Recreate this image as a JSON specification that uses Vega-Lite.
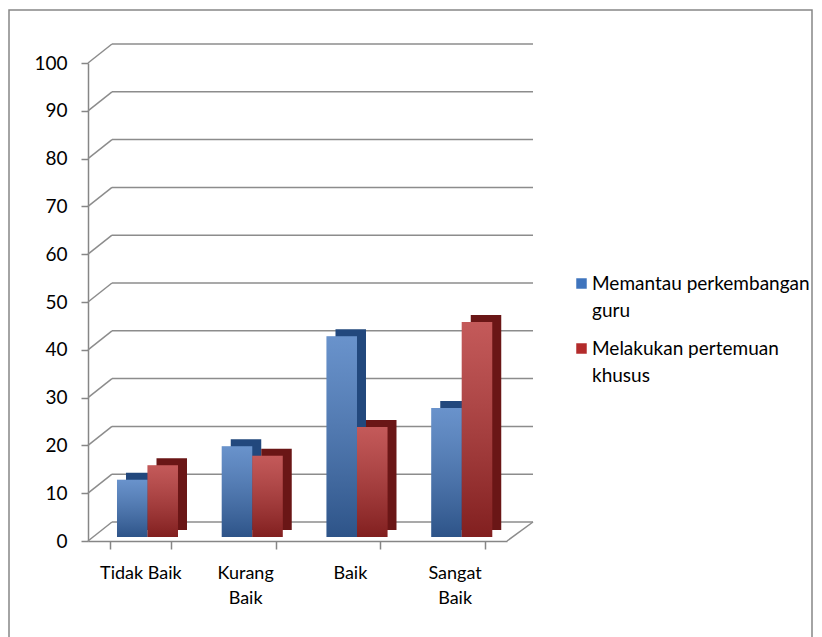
{
  "$schema": "https://vega.github.io/schema/vega-lite/v6.json",
  "width": 419,
  "height": 478,
  "autosize": {"type": "none"},
  "padding": {"left": 88, "top": 63, "right": 315, "bottom": 96},
  "background": "#ffffff",
  "config": {
    "view": {"stroke": null},
    "font": "Lato",
    "axis": {"labelFont": "Lato", "labelColor": "#000000", "domainColor": "#868686", "tickColor": "#868686", "domainWidth": 1.5, "tickWidth": 1.5}
  },
  "datasets": {
    "bars": [
      {"kategori": "Tidak Baik", "seri": "Memantau perkembangan guru", "nilai": 12},
      {"kategori": "Tidak Baik", "seri": "Melakukan pertemuan khusus", "nilai": 15},
      {"kategori": "Kurang Baik", "seri": "Memantau perkembangan guru", "nilai": 19},
      {"kategori": "Kurang Baik", "seri": "Melakukan pertemuan khusus", "nilai": 17},
      {"kategori": "Baik", "seri": "Memantau perkembangan guru", "nilai": 42},
      {"kategori": "Baik", "seri": "Melakukan pertemuan khusus", "nilai": 23},
      {"kategori": "Sangat Baik", "seri": "Memantau perkembangan guru", "nilai": 27},
      {"kategori": "Sangat Baik", "seri": "Melakukan pertemuan khusus", "nilai": 45}
    ],
    "ticks": [
      {"v": 0}, {"v": 10}, {"v": 20}, {"v": 30}, {"v": 40}, {"v": 50},
      {"v": 60}, {"v": 70}, {"v": 80}, {"v": 90}, {"v": 100}
    ]
  },
  "resolve": {"scale": {"xOffset": "independent"}},
  "layer": [
    {
      "data": {"values": [{}]},
      "mark": {"type": "rect", "fill": null, "stroke": "#868686", "strokeWidth": 1.5},
      "encoding": {
        "x": {"value": -79},
        "x2": {"value": 724},
        "y": {"value": -53},
        "y2": {"value": 620}
      }
    },
    {
      "data": {"name": "ticks"},
      "mark": {"type": "rule", "color": "#8c8c8c", "strokeWidth": 1.5, "yOffset": -19},
      "encoding": {
        "y": {"field": "v", "type": "quantitative", "scale": {"domain": [0, 100]}, "axis": {"values": [0,10,20,30,40,50,60,70,80,90,100], "title": null, "grid": false, "labelFontSize": 19, "labelPadding": 14, "tickSize": 7}},
        "x": {"value": 24},
        "x2": {"value": 445}
      }
    },
    {
      "data": {"name": "ticks"},
      "mark": {"type": "rule", "color": "#8c8c8c", "strokeWidth": 1.5, "y2Offset": -19},
      "encoding": {
        "y": {"field": "v", "type": "quantitative"},
        "y2": {"field": "v"},
        "x": {"value": 0},
        "x2": {"value": 24}
      }
    },
    {
      "data": {"values": [{"v": 0}]},
      "mark": {"type": "rule", "color": "#8c8c8c", "strokeWidth": 1.5, "y2Offset": -19},
      "encoding": {
        "y": {"field": "v", "type": "quantitative"},
        "y2": {"field": "v"},
        "x": {"value": 419},
        "x2": {"value": 445}
      }
    },
    {
      "data": {"name": "bars"},
      "mark": {"type": "bar", "yOffset": -11},
      "encoding": {
        "x": {"field": "kategori", "type": "nominal", "sort": ["Tidak Baik", "Kurang Baik", "Baik", "Sangat Baik"], "scale": {"paddingInner": 0.42, "paddingOuter": 0.21}, "axis": {"title": null, "labelAngle": 0, "labelFontSize": 18, "labelPadding": 15, "tickBand": "extent", "tickSize": 8, "labelLineHeight": 25, "labelExpr": "datum.label == 'Kurang Baik' ? ['Kurang', 'Baik'] : datum.label == 'Sangat Baik' ? ['Sangat', 'Baik'] : datum.label"}},
        "xOffset": {"field": "seri", "type": "nominal", "sort": ["Memantau perkembangan guru", "Melakukan pertemuan khusus"], "scale": {"range": [16, 77]}},
        "y": {"field": "nilai", "type": "quantitative"},
        "color": {"condition": {"test": "datum.seri == 'Memantau perkembangan guru'", "value": "#22487d"}, "value": "#6a1616"}
      }
    },
    {
      "data": {"name": "bars"},
      "mark": {"type": "bar", "yOffset": -4},
      "encoding": {
        "x": {"field": "kategori", "type": "nominal", "sort": ["Tidak Baik", "Kurang Baik", "Baik", "Sangat Baik"]},
        "xOffset": {"field": "seri", "type": "nominal", "sort": ["Memantau perkembangan guru", "Melakukan pertemuan khusus"], "scale": {"range": [7, 68]}},
        "y": {"field": "nilai", "type": "quantitative"},
        "color": {
          "field": "seri", "type": "nominal",
          "sort": ["Memantau perkembangan guru", "Melakukan pertemuan khusus"],
          "scale": {"domain": ["Memantau perkembangan guru", "Melakukan pertemuan khusus"], "range": ["#3f74bd", "#b32b2b"]},
          "legend": {
            "title": null, "orient": "none", "legendX": 484, "legendY": 211,
            "symbolType": "square", "symbolSize": 110, "symbolStrokeWidth": 0,
            "labelFont": "Lato", "labelFontSize": 19, "labelColor": "#000000",
            "rowPadding": 18, "labelOffset": 1, "labelLimit": 300,
            "labelExpr": "datum.label == 'Memantau perkembangan guru' ? ['Memantau perkembangan', 'guru'] : ['Melakukan pertemuan', 'khusus']",
            "encode": {"labels": {"update": {"lineHeight": {"value": 27}}}}
          }
        }
      }
    },
    {
      "data": {"name": "bars"},
      "mark": {"type": "bar", "yOffset": -4, "fill": {"gradient": "linear", "x1": 0, "y1": 0, "x2": 0, "y2": 1, "stops": [{"offset": 0, "color": "rgba(255,255,255,0.22)"}, {"offset": 1, "color": "rgba(0,0,0,0.28)"}]}},
      "encoding": {
        "x": {"field": "kategori", "type": "nominal", "sort": ["Tidak Baik", "Kurang Baik", "Baik", "Sangat Baik"]},
        "xOffset": {"field": "seri", "type": "nominal", "sort": ["Memantau perkembangan guru", "Melakukan pertemuan khusus"], "scale": {"range": [7, 68]}},
        "y": {"field": "nilai", "type": "quantitative"}
      }
    }
  ]
}
